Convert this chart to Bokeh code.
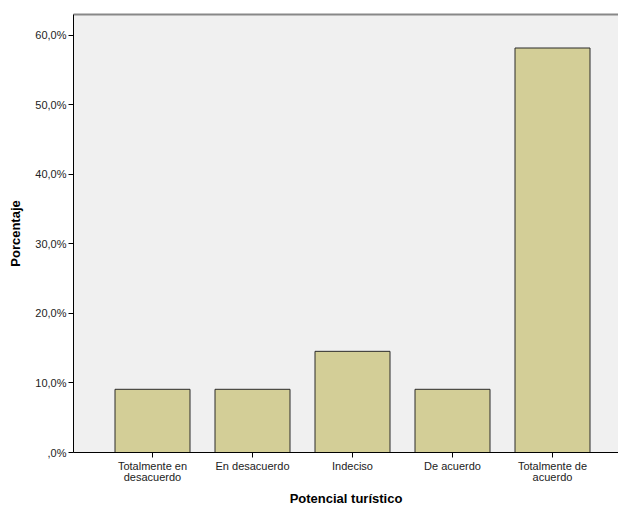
from bokeh.plotting import figure
from bokeh.models import Range1d, FixedTicker, LinearAxis
from bokeh.embed import file_html
from bokeh.resources import INLINE

categories = ["Totalmente en\ndesacuerdo", "En desacuerdo", "Indeciso", "De acuerdo", "Totalmente de\nacuerdo"]
values = [9.09, 9.09, 14.55, 9.09, 58.18]
y_ticks = [0, 10, 20, 30, 40, 50, 60]
y_tick_labels = [",0%", "10,0%", "20,0%", "30,0%", "40,0%", "50,0%", "60,0%"]

xs = list(range(len(categories)))

p = figure(width=618, height=509, output_backend="svg", toolbar_location=None,
           x_range=Range1d(-0.79, 4.66), y_range=Range1d(0, 63))
p.min_border_left = 73
p.min_border_right = 0
p.min_border_top = 14
p.min_border_bottom = 57
p.background_fill_color = "#F0F0F0"
p.border_fill_color = "white"
p.outline_line_color = None
p.grid.visible = False

p.vbar(x=xs, top=values, width=0.75, fill_color="#D3CE97", line_color="#2b2b2b", line_width=1)

ya = p.yaxis[0]
ya.ticker = FixedTicker(ticks=y_ticks)
ya.major_label_overrides = {t: l for t, l in zip(y_ticks, y_tick_labels)}
ya.minor_tick_line_color = None
ya.major_tick_in = 0
ya.major_tick_out = 5
ya.axis_line_color = "black"
ya.major_tick_line_color = "black"
ya.major_label_text_font = "Liberation Sans"
ya.major_label_text_font_size = "11px"
ya.major_label_text_color = "#222222"
ya.major_label_standoff = 2
ya.axis_label = "Porcentaje"
ya.axis_label_text_font = "Liberation Sans"
ya.axis_label_text_font_style = "bold"
ya.axis_label_text_font_size = "13px"
ya.axis_label_text_color = "black"
ya.axis_label_standoff = 9

xa = p.xaxis[0]
xa.ticker = FixedTicker(ticks=xs)
xa.major_label_overrides = {i: c for i, c in zip(xs, categories)}
xa.minor_tick_line_color = None
xa.major_tick_in = 0
xa.major_tick_out = 5
xa.axis_line_color = "black"
xa.major_tick_line_color = "black"
xa.major_label_text_font = "Liberation Sans"
xa.major_label_text_font_size = "11px"
xa.major_label_text_color = "#222222"
xa.major_label_text_line_height = 0.95
xa.major_label_standoff = 2
xa.axis_label = "Potencial turístico"
xa.axis_label_text_font = "Liberation Sans"
xa.axis_label_text_font_style = "bold"
xa.axis_label_text_font_size = "13px"
xa.axis_label_text_color = "black"
xa.axis_label_standoff = 5

top = LinearAxis(ticker=FixedTicker(ticks=[]), major_tick_line_color=None,
                 minor_tick_line_color=None, axis_line_color="#888888",
                 axis_line_width=2)
p.add_layout(top, "above")

open("out.html", "w").write(file_html(p, INLINE))
